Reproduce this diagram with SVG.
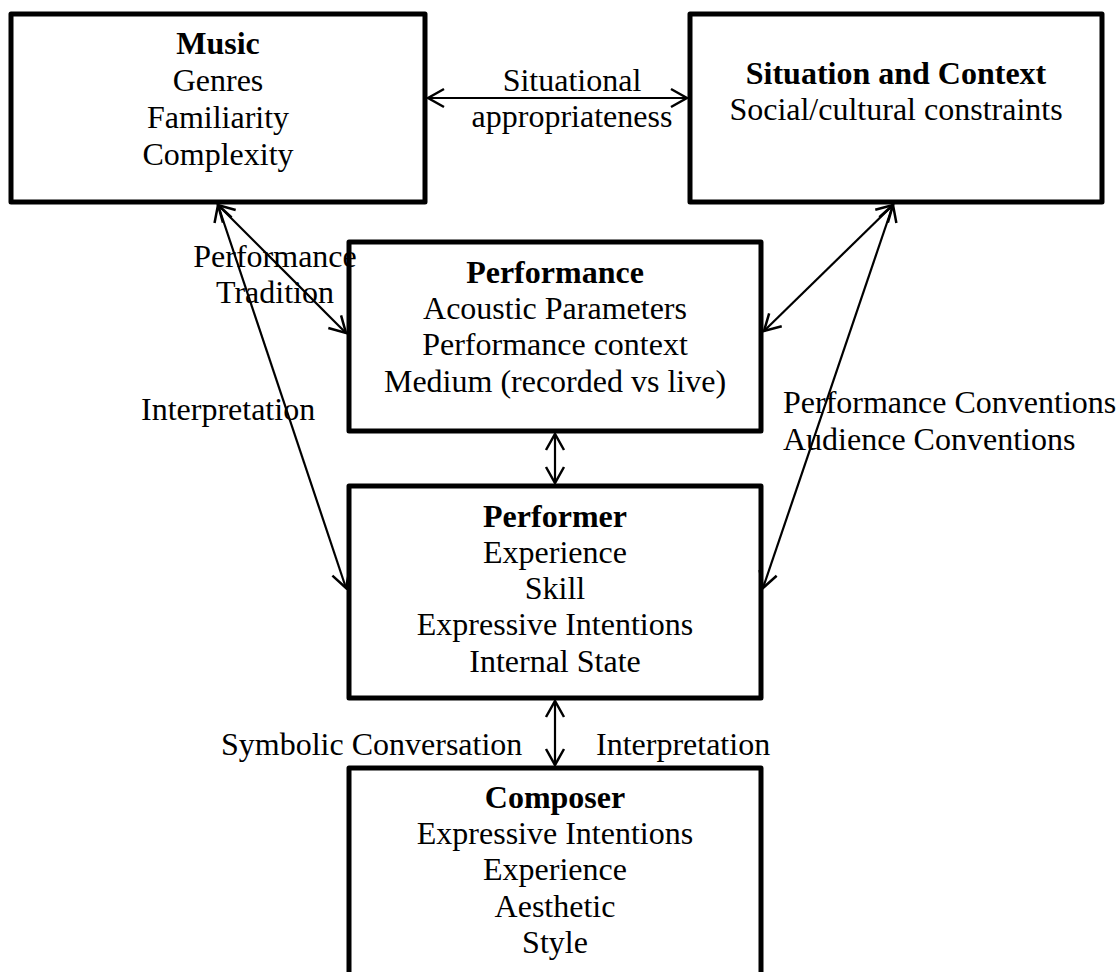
<svg xmlns="http://www.w3.org/2000/svg" width="1120" height="972" viewBox="0 0 1120 972">
<style>
.box{fill:#fff;stroke:#000;stroke-width:5;stroke-linejoin:round}
text{font-family:"Liberation Serif","Times New Roman",serif;font-size:32px;fill:#000}
.c{text-anchor:middle}
.b{font-weight:bold}
.con{stroke:#000;stroke-width:2.2;fill:none;marker-start:url(#ah);marker-end:url(#ah)}
</style>
<defs>
<marker id="ah" viewBox="-20 -12 22 24" refX="0" refY="0" markerWidth="22" markerHeight="24" markerUnits="userSpaceOnUse" orient="auto-start-reverse">
<path d="M-16,-9 L0,0 L-16,9" fill="none" stroke="#000" stroke-width="2.5"/>
</marker>
</defs>
<rect width="1120" height="972" fill="#fff"/>
<g id="music">
<rect class="box" x="11" y="14" width="414" height="188"/>
<text class="c b" x="218" y="54">Music</text>
<text class="c" x="218" y="91">Genres</text>
<text class="c" x="218" y="128">Familiarity</text>
<text class="c" x="218" y="165">Complexity</text>
</g>
<g id="situation">
<rect class="box" x="690" y="14" width="412" height="188"/>
<text class="c b" x="896" y="84">Situation and Context</text>
<text class="c" x="896" y="120">Social/cultural constraints</text>
</g>
<g id="performance">
<rect class="box" x="349" y="242" width="412" height="189"/>
<text class="c b" x="555" y="283">Performance</text>
<text class="c" x="555" y="319">Acoustic Parameters</text>
<text class="c" x="555" y="355">Performance context</text>
<text class="c" x="555" y="392">Medium (recorded vs live)</text>
</g>
<g id="performer">
<rect class="box" x="349" y="486" width="412" height="212"/>
<text class="c b" x="555" y="527">Performer</text>
<text class="c" x="555" y="563">Experience</text>
<text class="c" x="555" y="599">Skill</text>
<text class="c" x="555" y="635">Expressive Intentions</text>
<text class="c" x="555" y="672">Internal State</text>
</g>
<g id="composer">
<rect class="box" x="349" y="768" width="412" height="230"/>
<text class="c b" x="555" y="808">Composer</text>
<text class="c" x="555" y="844">Expressive Intentions</text>
<text class="c" x="555" y="880">Experience</text>
<text class="c" x="555" y="917">Aesthetic</text>
<text class="c" x="555" y="953">Style</text>
</g>
<g id="connectors">
<line class="con" x1="428" y1="98" x2="687" y2="98"/>
<line class="con" x1="218" y1="205" x2="346" y2="333"/>
<line class="con" x1="218" y1="205" x2="346" y2="588"/>
<line class="con" x1="893" y1="205" x2="764" y2="331"/>
<line class="con" x1="893" y1="205" x2="763" y2="588"/>
<line class="con" x1="555" y1="434" x2="555" y2="483"/>
<line class="con" x1="555" y1="701" x2="555" y2="765"/>
</g>
<g id="labels">
<text class="c" x="572" y="91">Situational</text>
<text class="c" x="572" y="127">appropriateness</text>
<text class="c" x="275" y="267">Performance</text>
<text class="c" x="275" y="303">Tradition</text>
<text x="141" y="420">Interpretation</text>
<text x="783" y="413">Performance Conventions</text>
<text x="783" y="450">Audience Conventions</text>
<text x="221" y="755">Symbolic Conversation</text>
<text x="596" y="755">Interpretation</text>
</g>
</svg>
